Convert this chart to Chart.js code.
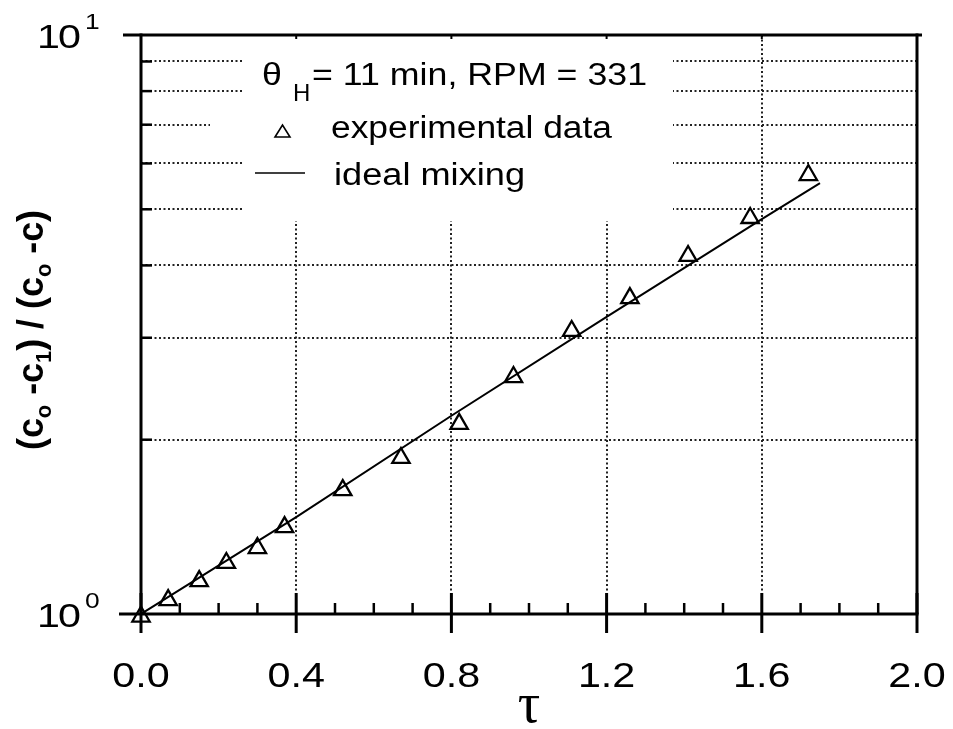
<!DOCTYPE html>
<html>
<head>
<meta charset="utf-8">
<script src="https://cdn.jsdelivr.net/npm/chart.js@4/dist/chart.umd.min.js"></script>
<style>
  html, body { margin: 0; padding: 0; background: #fff; }
  canvas { display: block; }
</style>
</head>
<body>
<canvas id="chart" width="953" height="729"></canvas>
<script>
// Dimensionless time and concentration ratio, measured runs
const tauMeasured = [0, 0.07, 0.15, 0.22, 0.30, 0.37, 0.52, 0.67, 0.82, 0.96, 1.11, 1.26, 1.41, 1.57, 1.72];
const ratioMeasured = [0.99, 1.057, 1.14, 1.225, 1.30, 1.413, 1.637, 1.86, 2.13, 2.566, 3.082, 3.513, 4.153, 4.83, 5.73];

// Ideal-mixing reference curve
const tauIdeal = [0, 0.4, 0.8, 1.2, 1.6, 1.75];
const ratioIdeal = [1.0, 1.47, 2.2, 3.26, 4.81, 5.55];

// Axis labelling
const xTickValues = [0, 0.4, 0.8, 1.2, 1.6, 2.0];
const xTickLabels = ['0.0', '0.4', '0.8', '1.2', '1.6', '2.0'];
const yDecadeValues = [1, 10];
const yDecadeExponents = ['0', '1'];
const yGridValues = [2, 3, 4, 5, 6, 7, 8, 9];

const legendCaption = { symbol: 'θ', sub: 'H', rest: '= 11 min, RPM = 331' };
const seriesNames = ['experimental data', 'ideal mixing'];

const SANS = '"Liberation Sans", Arial, Helvetica, sans-serif';

function isMajorX(v) {
  return Math.abs(v / 0.4 - Math.round(v / 0.4)) < 1e-6;
}

// Draw text stretched horizontally by sx
function drawStretched(ctx, text, x, y, font, sx, align) {
  ctx.save();
  ctx.font = font;
  ctx.textBaseline = 'alphabetic';
  ctx.textAlign = 'left';
  const w = ctx.measureText(text).width * sx;
  let x0 = x;
  if (align === 'center') x0 = x - w / 2;
  else if (align === 'right') x0 = x - w;
  ctx.translate(x0, y);
  ctx.scale(sx, 1);
  ctx.fillText(text, 0, 0);
  ctx.restore();
  return w;
}

// Draw text stretched to span a given width
function drawFitted(ctx, text, x, y, font, width) {
  ctx.save();
  ctx.font = font;
  const sx = width / ctx.measureText(text).width;
  ctx.restore();
  return drawStretched(ctx, text, x, y, font, sx, 'left');
}

function line(ctx, x1, y1, x2, y2, w) {
  ctx.beginPath();
  ctx.lineWidth = w;
  ctx.moveTo(x1, y1);
  ctx.lineTo(x2, y2);
  ctx.stroke();
}

const maskPlugin = {
  id: 'legendMask',
  beforeDatasetsDraw(chart) {
    const ctx = chart.ctx;
    const ys = chart.scales.y;
    ctx.save();
    ctx.fillStyle = '#fff';
    // clear grid behind the annotation block
    ctx.fillRect(242, chart.chartArea.top + 1, 673 - 242, 220 - chart.chartArea.top);
    const y7 = ys.getPixelForValue(7);
    ctx.fillRect(210, y7 - 4, 40, 8);
    ctx.restore();
  }
};

const framePlugin = {
  id: 'frame',
  afterDraw(chart) {
    const ctx = chart.ctx;
    const { left, right, top, bottom } = chart.chartArea;
    const xs = chart.scales.x;
    const ys = chart.scales.y;
    ctx.save();
    ctx.strokeStyle = '#000';
    ctx.fillStyle = '#000';
    ctx.lineCap = 'butt';

    // box
    line(ctx, left - 22, bottom, right + 1.5, bottom, 3);
    line(ctx, left - 18, top, right + 5, top, 3);
    line(ctx, left, top - 1.5, left, bottom, 3);
    line(ctx, right, top - 1.5, right, bottom, 3);

    // x ticks: minor every 0.1, major every 0.4
    for (let i = 0; i <= 20; i++) {
      const v = i / 10;
      const px = xs.getPixelForValue(v);
      if (isMajorX(v)) {
        line(ctx, px, bottom - 21, px, bottom + 19, 3);
        if (v > 0 && v < 2) line(ctx, px, top, px, top + 4, 2);
      } else {
        line(ctx, px, bottom - 11, px, bottom, 2.5);
      }
    }
    // y minor ticks
    yGridValues.forEach(v => {
      const py = ys.getPixelForValue(v);
      line(ctx, left, py, left + 11, py, 2.5);
    });

    // x tick labels
    xTickValues.forEach((v, i) => {
      drawStretched(ctx, xTickLabels[i], xs.getPixelForValue(v), bottom + 73, '35px ' + SANS, 1.18, 'center');
    });

    // y decade labels 10^n
    yDecadeValues.forEach((v, i) => {
      const py = ys.getPixelForValue(v);
      drawStretched(ctx, '1', 37, py + 13, '33px ' + SANS, 1.25, 'left');
      drawStretched(ctx, '0', 58, py + 13, '33px ' + SANS, 1.25, 'left');
      drawStretched(ctx, yDecadeExponents[i], 85, py - 6, '22px ' + SANS, 1.2, 'left');
    });

    // x axis title
    ctx.font = '56px "Liberation Serif", "DejaVu Serif", serif';
    ctx.textAlign = 'center';
    ctx.textBaseline = 'alphabetic';
    ctx.fillText('τ', (left + right) / 2, 722);

    // y axis title (rotated, with subscripts)
    const segs = [
      ['(c', 36, 0], ['o', 22, 8], [' -c', 36, 0], ['1', 22, 8],
      [') / (c', 36, 0], ['o', 22, 8], [' -c)', 36, 0]
    ];
    let total = 0;
    segs.forEach(s => { ctx.font = 'bold ' + s[1] + 'px ' + SANS; total += ctx.measureText(s[0]).width; });
    const sy = 240 / total;
    ctx.save();
    ctx.translate(43, 330);
    ctx.rotate(-Math.PI / 2);
    ctx.scale(sy, 1);
    ctx.textAlign = 'left';
    let cx = -total / 2;
    segs.forEach(s => {
      ctx.font = 'bold ' + s[1] + 'px ' + SANS;
      ctx.fillText(s[0], cx, s[2]);
      cx += ctx.measureText(s[0]).width;
    });
    ctx.restore();

    // annotation block
    drawStretched(ctx, legendCaption.symbol, 262, 85, '31px ' + SANS, 1.15, 'left');
    drawStretched(ctx, legendCaption.sub, 293, 101, '24px ' + SANS, 1.0, 'left');
    drawFitted(ctx, legendCaption.rest, 312, 85, '31px ' + SANS, 335);

    ctx.beginPath();
    ctx.lineWidth = 1.6;
    ctx.moveTo(275, 137);
    ctx.lineTo(282.5, 125);
    ctx.lineTo(290, 137);
    ctx.closePath();
    ctx.stroke();
    drawFitted(ctx, seriesNames[0], 331, 138, '31px ' + SANS, 281);

    line(ctx, 255, 173, 305, 173, 1.6);
    drawFitted(ctx, seriesNames[1], 334, 185, '31px ' + SANS, 191);

    ctx.restore();
  }
};

const ctx = document.getElementById('chart').getContext('2d');
new Chart(ctx, {
  type: 'scatter',
  data: {
    datasets: [
      {
        label: seriesNames[0],
        data: tauMeasured.map((t, i) => ({ x: t, y: ratioMeasured[i] })),
        showLine: false,
        pointStyle: 'triangle',
        pointRadius: 10,
        pointHoverRadius: 10,
        pointBorderWidth: 2.3,
        borderColor: '#000',
        backgroundColor: 'rgba(0,0,0,0)',
        clip: false,
        order: 1
      },
      {
        label: seriesNames[1],
        data: tauIdeal.map((t, i) => ({ x: t, y: ratioIdeal[i] })),
        showLine: true,
        pointRadius: 0,
        borderColor: '#000',
        borderWidth: 2,
        tension: 0,
        order: 2
      }
    ]
  },
  options: {
    responsive: false,
    animation: false,
    devicePixelRatio: 1,
    layout: { padding: { top: 35, right: 36, left: 0, bottom: 0 } },
    plugins: { legend: { display: false }, tooltip: { enabled: false } },
    scales: {
      x: {
        type: 'linear',
        min: 0,
        max: 2,
        ticks: { stepSize: 0.1, autoSkip: false, display: false },
        grid: {
          drawTicks: false,
          lineWidth: 2,
          color: c => (c.tick && isMajorX(c.tick.value) && c.tick.value > 0.01 && c.tick.value < 1.99) ? '#222' : 'rgba(0,0,0,0)'
        },
        border: { display: false, dash: [2, 2.5] },
        afterFit: s => { s.height = 115; }
      },
      y: {
        type: 'logarithmic',
        min: 1,
        max: 10,
        ticks: { display: false },
        afterBuildTicks: s => { s.ticks = [1].concat(yGridValues, [10]).map(v => ({ value: v })); },
        grid: {
          drawTicks: false,
          lineWidth: 2,
          color: c => {
            if (!c.tick) return 'rgba(0,0,0,0)';
            return yGridValues.includes(c.tick.value) ? '#222' : 'rgba(0,0,0,0)';
          }
        },
        border: { display: false, dash: [2, 2.5] },
        afterFit: s => { s.width = 141; }
      }
    }
  },
  plugins: [maskPlugin, framePlugin]
});
</script>
</body>
</html>
